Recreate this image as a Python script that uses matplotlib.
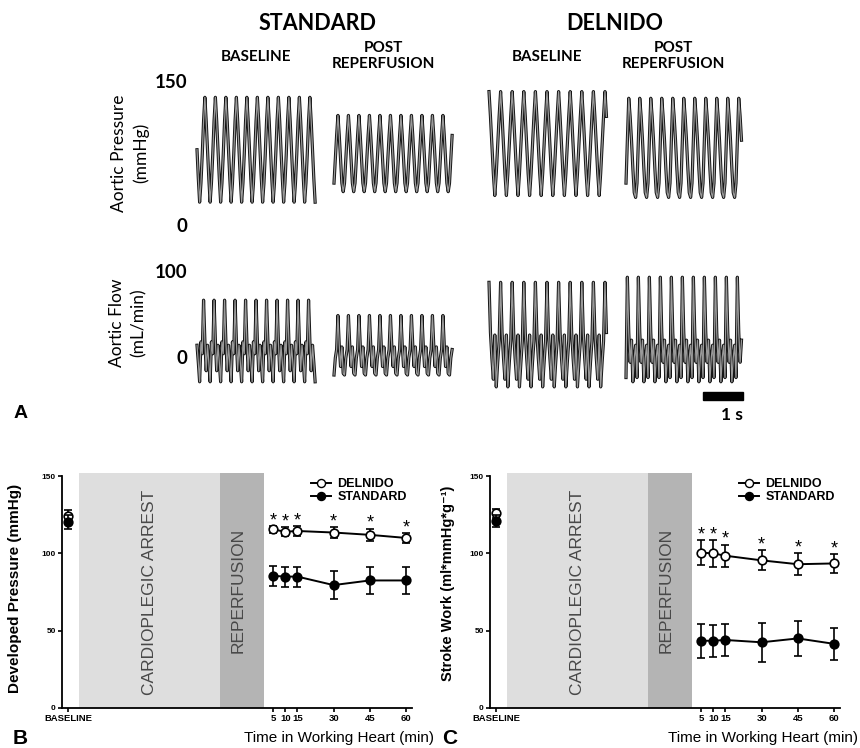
import matplotlib
matplotlib.use("Agg")
import matplotlib.pyplot as plt
import matplotlib.patheffects as pe
from matplotlib.lines import Line2D
from matplotlib.patches import Rectangle
import numpy as np

# -----------------------------------
# Panel A: one beat of each trace, tiled per trace
# -----------------------------------
trace_start_s = [0.175, 3.6, 7.475, 10.9]        # std base, std post, del base, del post
beat_period_s = [0.2625, 0.2625, 0.29, 0.275]
trace_samples = [91, 91, 82, 85]

std_base_pressure = [80, 50, 25, 45, 75, 110, 135, 110]
std_post_pressure = [45, 70, 95, 116, 95, 70, 45, 36]
del_base_pressure = [141, 115, 85, 55, 32, 55, 85, 115]
del_post_pressure = [45, 90, 134, 115, 90, 60, 35, 30]

std_base_flow = [15, -5, -28, 19, 5, 68, 20, -15]
std_post_flow = [-20, 0, 10, 50, 15, -10, 13, -18]
del_base_flow = [89, 30, 0, -25, 27, -34, -5, 20]
del_post_flow = [-23, 95, 30, -5, 21, -28, 0, 15]

# -----------------------------------
# Panels B and C: mean +/- error
# -----------------------------------
times = [5, 10, 15, 30, 45, 60]
baseline_x = -80
tick_labels = ["BASELINE", "5", "10", "15", "30", "45", "60"]

b_del_base, b_del_base_err = 124.5, 3.5
b_std_base, b_std_base_err = 120.5, 4.5
b_del = [115.5, 114, 114.5, 113.5, 112, 110]
b_del_err = [2, 3, 3, 3.5, 4, 3]
b_std = [85.5, 85, 85, 79.5, 82.5, 82.5]
b_std_err = [6.5, 6.5, 6.5, 9, 9, 9]

c_del_base, c_del_base_err = 126, 3
c_std_base, c_std_base_err = 121, 4
c_del = [100.5, 100, 98.5, 95.5, 93, 93.5]
c_del_err = [8, 8.5, 7, 6.5, 7, 6]
c_std = [43.5, 43.5, 44, 42.5, 45, 41.5]
c_std_err = [11, 10.5, 10.5, 12.5, 11.5, 10.5]

arrest_span = (-75.5, -17)
reperfusion_span = (-17, 1.3)

W, H = 860, 748
fig = plt.figure(figsize=(W / 100, H / 100), dpi=100)
fig.patch.set_facecolor("white")

def fx(px):
    return px / W

def fy(py):
    return 1 - py / H

calibri = ["Lato", "DejaVu Sans"]
arial = ["Liberation Sans", "DejaVu Sans"]

# -----------------------------------
# Panel A
# -----------------------------------
ax_p = fig.add_axes([fx(190), fy(226), 570 / W, 143 / H])
ax_p.set_xlim(0, 14.25)
ax_p.set_ylim(0, 150)
ax_p.axis("off")

ax_f = fig.add_axes([fx(190), fy(400.5), 570 / W, 127.5 / H])
ax_f.set_xlim(0, 14.25)
ax_f.set_ylim(-50, 100)
ax_f.axis("off")

def draw_trace(ax, start, period, beat, n):
    vals = np.resize(beat, n)
    dt = period / len(beat)
    t = start + dt * np.arange(n)
    ax.plot(t, vals, color="#9a9a9a", lw=0.9, clip_on=False,
            path_effects=[pe.Stroke(linewidth=2.3, foreground="#151515"), pe.Normal()])

pressures = [std_base_pressure, std_post_pressure, del_base_pressure, del_post_pressure]
flows = [std_base_flow, std_post_flow, del_base_flow, del_post_flow]
for i in range(4):
    draw_trace(ax_p, trace_start_s[i], beat_period_s[i], pressures[i], trace_samples[i])
    draw_trace(ax_f, trace_start_s[i], beat_period_s[i], flows[i], trace_samples[i])

ax_p.text(-0.075, 150, "150", ha="right", va="center", fontsize=13.5, fontweight="bold", family=calibri)
ax_p.text(-0.075, 0, "0", ha="right", va="center", fontsize=13.5, fontweight="bold", family=calibri)
ax_f.text(-0.075, 100, "100", ha="right", va="center", fontsize=13.5, fontweight="bold", family=calibri)
ax_f.text(-0.075, 0, "0", ha="right", va="center", fontsize=13.5, fontweight="bold", family=calibri)

# 1 s scale bar
ax_f.add_patch(Rectangle((12.825, -49.4), 1.0, 9.4, color="black", clip_on=False))
ax_f.text(13.825, -67, "1 s", ha="right", va="center", fontsize=12.5, fontweight="bold",
          family=calibri, clip_on=False)

fig.text(fx(130), fy(153), "Aortic Pressure\n(mmHg)", rotation=90, ha="center", va="center",
         fontsize=12.5, family=calibri, linespacing=1.45)
fig.text(fx(128), fy(323), "Aortic Flow\n(mL/min)", rotation=90, ha="center", va="center",
         fontsize=12.5, family=calibri, linespacing=1.45)

fig.text(fx(318), fy(23), "STANDARD", ha="center", va="center", fontsize=15.5, fontweight="bold", family=calibri)
fig.text(fx(615), fy(23), "DELNIDO", ha="center", va="center", fontsize=15.5, fontweight="bold", family=calibri)
for cx in (256, 547):
    fig.text(fx(cx), fy(57), "BASELINE", ha="center", va="center", fontsize=11, fontweight="bold", family=calibri)
for cx in (383, 673):
    fig.text(fx(cx), fy(56), "POST\nREPERFUSION", ha="center", va="center", fontsize=11,
             fontweight="bold", family=calibri, linespacing=1.25)

fig.text(fx(21), fy(413), "A", ha="center", va="center", fontsize=14, fontweight="bold", family=arial)

# -----------------------------------
# Panels B and C
# -----------------------------------
def summary(ax, del_base, del_base_err, std_base, std_base_err, dmean, derr, smean, serr):
    ax.axvspan(*arrest_span, color="#dedede", lw=0, zorder=0)
    ax.axvspan(*reperfusion_span, color="#b4b4b4", lw=0, zorder=0)
    ax.text(np.mean(arrest_span), 75, "CARDIOPLEGIC ARREST", rotation=90, ha="center", va="center",
            fontsize=12.5, color="#484848", family=arial)
    ax.text(np.mean(reperfusion_span) - 1.5, 76, "REPERFUSION", rotation=90, ha="center", va="center",
            fontsize=12.5, color="#484848", family=arial)

    kw = dict(color="black", mec="black", ms=6.2, mew=1.2, elinewidth=1.2, capsize=3, capthick=1.2)
    ax.errorbar(times, dmean, yerr=derr, fmt="-o", mfc="white", lw=1.4, zorder=3, **kw)
    ax.errorbar(times, smean, yerr=serr, fmt="-o", mfc="black", lw=1.4, zorder=3, **kw)
    ax.errorbar([baseline_x], [del_base], yerr=[del_base_err], fmt="o", mfc="white", zorder=3, **kw)
    ax.errorbar([baseline_x], [std_base], yerr=[std_base_err], fmt="o", mfc="black", zorder=4, **kw)

    for t, m, e in zip(times, dmean, derr):
        ax.text(t, m + e + 3.5, "*", ha="center", va="center", fontsize=13, family=arial)

    ax.set_xlim(-82.5, 62.5)
    ax.set_ylim(0, 152)
    ax.set_xticks([baseline_x] + times)
    ax.set_xticklabels(tick_labels)
    ax.set_yticks([0, 50, 100, 150])
    for s in ("top", "right"):
        ax.spines[s].set_visible(False)
    ax.spines["left"].set_bounds(0, 150)
    for s in ("left", "bottom"):
        ax.spines[s].set_linewidth(1.3)
    ax.tick_params(length=3, width=1.2, pad=1.5)
    for lab in ax.get_xticklabels():
        lab.set_fontsize(6.8)
        lab.set_fontweight("bold")
        lab.set_family(arial)
    for lab in ax.get_yticklabels():
        lab.set_fontsize(6)
        lab.set_fontweight("bold")
        lab.set_family(arial)

    handles = [Line2D([], [], color="black", marker="o", mfc="white", mec="black", ms=5.8, lw=1.4),
               Line2D([], [], color="black", marker="o", mfc="black", mec="black", ms=5.8, lw=1.4)]
    ax.legend(handles, ["DELNIDO", "STANDARD"], loc="upper right", bbox_to_anchor=(1.0, 1.0),
              frameon=False, handlelength=1.6, handletextpad=0.5, labelspacing=0.12,
              borderaxespad=0, prop={"family": arial, "size": 9, "weight": "bold"})

ax_b = fig.add_axes([fx(62), fy(708), 350 / W, 235 / H])
ax_c = fig.add_axes([fx(490), fy(708), 350 / W, 235 / H])
summary(ax_b, b_del_base, b_del_base_err, b_std_base, b_std_base_err, b_del, b_del_err, b_std, b_std_err)
summary(ax_c, c_del_base, c_del_base_err, c_std_base, c_std_base_err, c_del, c_del_err, c_std, c_std_err)

fig.text(fx(15), fy(588), "Developed Pressure (mmHg)", rotation=90, ha="center", va="center",
         fontsize=11, fontweight="bold", family=arial)
fig.text(fx(448), fy(583), "Stroke Work (ml*mmHg*g\u207b\u00b9)", rotation=90, ha="center", va="center",
         fontsize=10.5, fontweight="bold", family=arial)

fig.text(fx(434), fy(738), "Time in Working Heart (min)", ha="right", va="center", fontsize=11, family=arial)
fig.text(fx(858), fy(738), "Time in Working Heart (min)", ha="right", va="center", fontsize=11, family=arial)

fig.text(fx(20), fy(739), "B", ha="center", va="center", fontsize=15, fontweight="bold", family=arial)
fig.text(fx(450), fy(739), "C", ha="center", va="center", fontsize=15, fontweight="bold", family=arial)

fig.savefig("out.png", dpi=100, facecolor="white")
